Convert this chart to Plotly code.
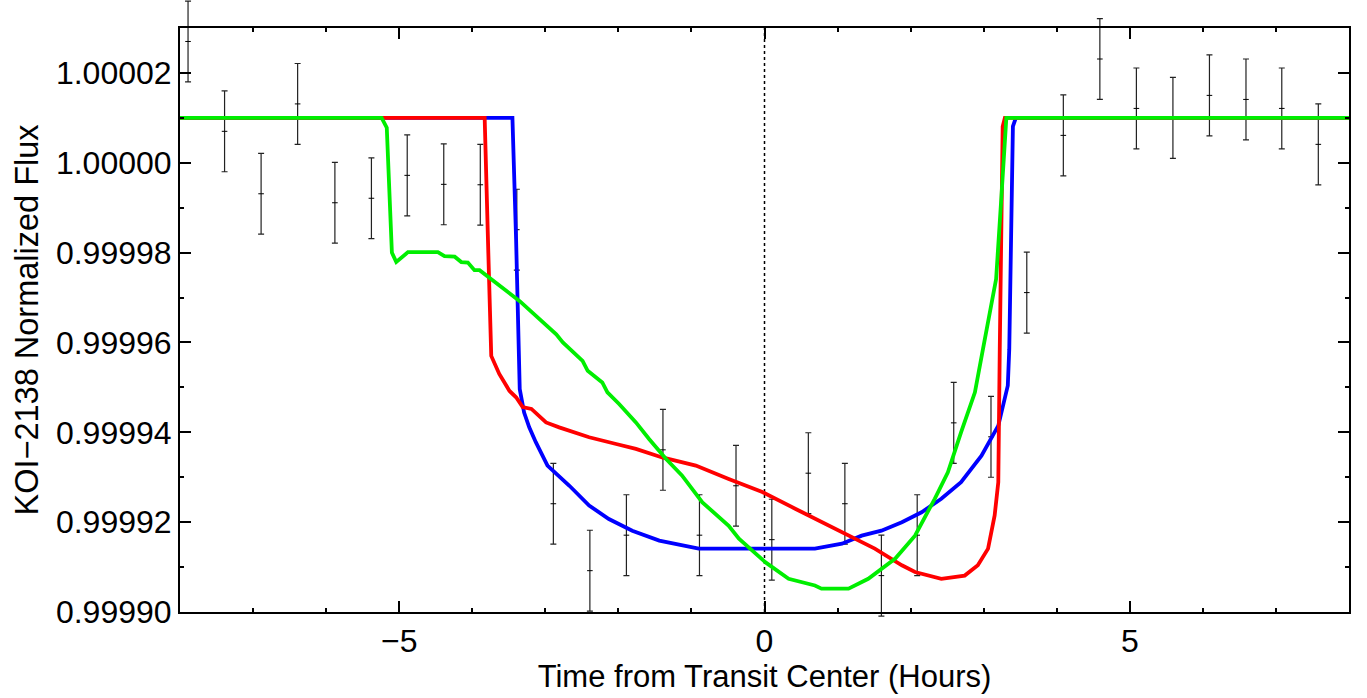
import plotly.graph_objects as go

# Observed data (hours from transit center, normalized flux, 1-sigma error)
obs_time = [-7.89, -7.39, -6.89, -6.39, -5.88, -5.38, -4.89, -4.39, -3.89, -3.39,
            -2.89, -2.39, -1.89, -1.39, -0.89, -0.39, 0.10, 0.60, 1.10, 1.60,
            2.09, 2.59, 3.10, 3.59, 4.09, 4.59, 5.09, 5.59, 6.09, 6.59, 7.08, 7.58]
obs_flux = [1.0000270, 1.0000070, 0.9999931, 1.0000131, 0.9999911, 0.9999921, 0.9999972,
            0.9999952, 0.9999951, 0.9999851, 0.9999241, 0.9999092, 0.9999171, 0.9999361,
            0.9999171, 0.9999281, 0.9999161, 0.9999309, 0.9999241, 0.9999081, 0.9999171,
            0.9999421, 0.9999390, 0.9999711, 1.0000061, 1.0000231, 1.0000121, 1.0000100,
            1.0000150, 1.0000141, 1.0000121, 1.0000041]
obs_err = [0.0000090] * 32

# Model curves
blue_time = [-8.0, -3.45, -3.40, -3.35, -3.29, -3.22, -3.13, -2.97, -2.67, -2.40,
             -2.13, -1.81, -1.44, -1.22, -0.90, 0.69, 1.06, 1.33, 1.60, 1.88,
             2.15, 2.42, 2.69, 2.97, 3.20, 3.33, 3.35, 3.40, 3.44, 8.0]
blue_flux = [1.0000100, 1.0000100, 0.9999830, 0.9999496, 0.9999444, 0.9999411, 0.9999378,
             0.9999326, 0.9999281, 0.9999237, 0.9999207, 0.9999181, 0.9999159, 0.9999152,
             0.9999141, 0.9999141, 0.9999152, 0.9999170, 0.9999181, 0.9999200, 0.9999222,
             0.9999252, 0.9999289, 0.9999348, 0.9999415, 0.9999504, 0.9999585, 1.0000081,
             1.0000100, 1.0000100]

red_time = [-8.0, -3.83, -3.78, -3.74, -3.63, -3.49, -3.40, -3.31, -3.19, -2.99,
            -2.81, -2.40, -2.03, -1.76, -1.40, -0.94, -0.49, -0.03, 0.42, 0.78,
            1.15, 1.51, 1.88, 2.06, 2.42, 2.74, 2.92, 3.06, 3.15, 3.20,
            3.22, 3.26, 3.29, 8.0]
red_flux = [1.0000100, 1.0000100, 0.9999800, 0.9999570, 0.9999530, 0.9999492, 0.9999478,
            0.9999456, 0.9999452, 0.9999422, 0.9999411, 0.9999389, 0.9999374, 0.9999363,
            0.9999344, 0.9999326, 0.9999296, 0.9999267, 0.9999230, 0.9999200, 0.9999170,
            0.9999141, 0.9999104, 0.9999089, 0.9999074, 0.9999081, 0.9999104, 0.9999141,
            0.9999215, 0.9999289, 0.9999585, 1.0000081, 1.0000100, 1.0000100]

green_time = [-8.0, -5.24, -5.17, -5.10, -5.04, -4.88, -4.47, -4.38, -4.24, -4.15,
              -4.06, -3.97, -3.90, -3.74, -3.35, -2.85, -2.76, -2.49, -2.42, -2.22,
              -2.15, -1.99, -1.76, -1.58, -1.35, -1.13, -0.85, -0.49, -0.35, 0.01,
              0.33, 0.69, 0.78, 1.15, 1.42, 1.79, 2.06, 2.33, 2.51, 2.69,
              2.88, 2.99, 3.17, 3.24, 3.31, 8.0]
green_flux = [1.0000100, 1.0000100, 1.0000078, 0.9999800, 0.9999779, 0.9999801, 0.9999801,
              0.9999792, 0.9999791, 0.9999779, 0.9999778, 0.9999761, 0.9999761, 0.9999741,
              0.9999692, 0.9999618, 0.9999600, 0.9999559, 0.9999537, 0.9999511, 0.9999489,
              0.9999463, 0.9999422, 0.9999385, 0.9999341, 0.9999304, 0.9999244, 0.9999192,
              0.9999163, 0.9999111, 0.9999074, 0.9999059, 0.9999052, 0.9999052, 0.9999074,
              0.9999119, 0.9999170, 0.9999252, 0.9999311, 0.9999400, 0.9999489, 0.9999585,
              0.9999741, 0.9999918, 1.0000100, 1.0000100]

x_range = [-8, 8]
y_range = [0.99990, 1.00003]
x_ticks = [-5, 0, 5]
y_ticks = [0.99990, 0.99992, 0.99994, 0.99996, 0.99998, 1.00000, 1.00002]
y_tick_text = ["0.99990", "0.99992", "0.99994", "0.99996", "0.99998", "1.00000", "1.00002"]

FONT = "Liberation Sans, Arial, Helvetica, sans-serif"

# ---- geometry: the framed axes sit inside a taller data area so error bars may poke out ----
W, H = 1367, 698
M_L, M_R, M_T, M_B = 180, 18, 0, 60
plot_h = H - M_T - M_B
frame_top_px, frame_bot_px = 28, 612          # pixel rows of the frame
dom_top = (H - M_B - frame_top_px) / plot_h
dom_bot = (H - M_B - frame_bot_px) / plot_h
span_per_dom = (y_range[1] - y_range[0]) / (dom_top - dom_bot)
data_y_range = [y_range[0] - dom_bot * span_per_dom,
                y_range[0] + (1 - dom_bot) * span_per_dom]

fig = go.Figure()

fig.add_trace(go.Scatter(
    x=obs_time, y=obs_flux, mode="markers",
    marker=dict(symbol="line-ew", size=4, color="black", line=dict(width=1, color="black")),
    error_y=dict(type="data", array=obs_err, visible=True, color="#222", thickness=1.2, width=3),
    cliponaxis=False, showlegend=False, xaxis="x", yaxis="y",
))
fig.add_trace(go.Scatter(x=blue_time, y=blue_flux, mode="lines",
                         line=dict(color="#0000ff", width=3.8), showlegend=False))
fig.add_trace(go.Scatter(x=red_time, y=red_flux, mode="lines",
                         line=dict(color="#ff0000", width=3.8), showlegend=False))
fig.add_trace(go.Scatter(x=green_time, y=green_flux, mode="lines",
                         line=dict(color="#00ee00", width=3.8), showlegend=False))

# frame subplot (x2, y2): carries the visible axes
fig.add_trace(go.Scatter(x=[], y=[], xaxis="x2", yaxis="y2", showlegend=False, hoverinfo="skip"))

fig.add_shape(type="line", xref="x2", yref="y2 domain", x0=0, x1=0, y0=0, y1=1,
              line=dict(color="black", width=1.5, dash="dot"), layer="below")

axis_common = dict(
    showline=True, linewidth=2, linecolor="black", mirror="allticks",
    ticks="inside", ticklen=11, tickwidth=2, tickcolor="black",
    showgrid=False, zeroline=False,
    tickfont=dict(family=FONT, size=32, color="black"),
)

fig.update_layout(
    width=W, height=H,
    margin=dict(l=M_L, r=M_R, t=M_T, b=M_B),
    paper_bgcolor="white", plot_bgcolor="rgba(0,0,0,0)",
    font=dict(family=FONT, size=31, color="black"),
    xaxis=dict(range=x_range, domain=[0, 1], visible=False, anchor="y"),
    yaxis=dict(range=data_y_range, domain=[0, 1], visible=False, anchor="x"),
    xaxis2=dict(
        range=x_range, domain=[0, 1], anchor="y2", tickmode="array", tickvals=x_ticks,
        minor=dict(ticks="inside", ticklen=4, tickwidth=1.5, dtick=1, tick0=0, tickcolor="black"),
        title=dict(text="Time from Transit Center (Hours)",
                   font=dict(family=FONT, size=31, color="black"), standoff=4),
        **axis_common,
    ),
    yaxis2=dict(
        range=y_range, domain=[dom_bot, dom_top], anchor="x2", tickmode="array",
        tickvals=y_ticks, ticktext=y_tick_text,
        minor=dict(ticks="inside", ticklen=4, tickwidth=1.5, dtick=0.00001, tick0=0.9999,
                   tickcolor="black"),
        title=dict(text="KOI\u22122138 Normalized Flux",
                   font=dict(family=FONT, size=32.5, color="black"), standoff=8),
        **axis_common,
    ),
)

fig.write_html("out.html")
